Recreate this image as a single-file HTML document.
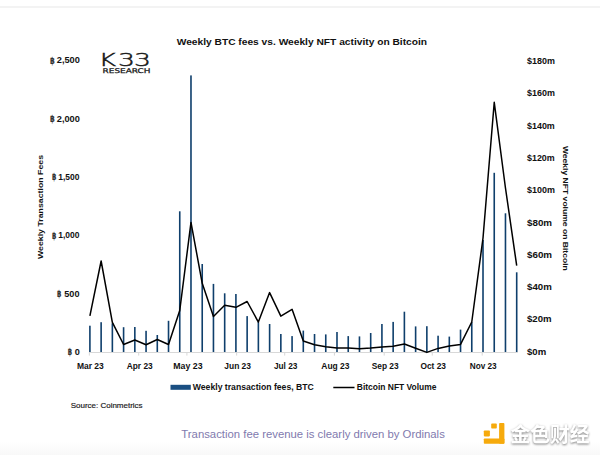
<!DOCTYPE html>
<html><head><meta charset="utf-8"><title>Weekly BTC fees vs. Weekly NFT activity on Bitcoin</title>
<style>
html,body{margin:0;padding:0;background:#fff;}
body{width:600px;height:455px;overflow:hidden;position:relative;}
svg{position:absolute;left:0;top:0;display:block;}
text{font-family:"Liberation Sans",sans-serif;}
.ax{font-size:8.4px;font-weight:bold;fill:#111;}
.btc{font-family:"DejaVu Sans",sans-serif;font-size:9.6px;font-weight:bold;fill:#333;}
.mo{font-size:8.6px;font-weight:bold;fill:#111;}
</style></head><body>
<svg width="600" height="455" viewBox="0 0 600 455">
<defs>
<linearGradient id="fade" x1="0" y1="0" x2="0" y2="1">
<stop offset="0" stop-color="#ffffff"/><stop offset="1" stop-color="#f8f8f8"/>
</linearGradient>
</defs>
<rect x="0" y="0" width="600" height="455" fill="#fff"/>
<rect x="0" y="441" width="600" height="14" fill="url(#fade)"/>
<rect x="0" y="6.5" width="600" height="1" fill="#e8e8e8"/>

<!-- K33 logo -->
<text transform="scale(1.45,1)" x="68.0 81.38 92.5" y="65.6" font-size="18.4" font-weight="200" fill="#151515" stroke="#151515" stroke-width="0.45" style="font-family:'DejaVu Sans',sans-serif;">K33</text>
<text x="102.6" y="72.7" font-size="6.5" fill="#151515" stroke="#151515" stroke-width="0.25" textLength="47.8" lengthAdjust="spacingAndGlyphs" style="font-family:'DejaVu Sans',sans-serif;">RESEARCH</text>

<!-- title -->
<text x="176.7" y="44.9" font-size="8.8" font-weight="bold" fill="#111" textLength="250.4" lengthAdjust="spacingAndGlyphs">Weekly BTC fees vs. Weekly NFT activity on Bitcoin</text>

<!-- axis titles -->
<text transform="translate(43.0,259.1) rotate(-90)" font-size="7.4" font-weight="bold" fill="#111" textLength="104.2" lengthAdjust="spacingAndGlyphs">Weekly Transaction Fees</text>
<text transform="translate(562.9,145.9) rotate(90)" font-size="7.4" font-weight="bold" fill="#111" textLength="124.9" lengthAdjust="spacingAndGlyphs">Weekly NFT volume on Bitcoin</text>

<text class="ax" x="56.80" y="63.2" textLength="23.10" lengthAdjust="spacingAndGlyphs">2,500</text><text class="btc" x="49.90" y="63.7" textLength="4.8" lengthAdjust="spacingAndGlyphs">฿</text><text class="ax" x="56.80" y="121.5" textLength="23.10" lengthAdjust="spacingAndGlyphs">2,000</text><text class="btc" x="49.90" y="122.0" textLength="4.8" lengthAdjust="spacingAndGlyphs">฿</text><text class="ax" x="58.30" y="179.8" textLength="21.20" lengthAdjust="spacingAndGlyphs">1,500</text><text class="btc" x="51.90" y="180.3" textLength="4.4" lengthAdjust="spacingAndGlyphs">฿</text><text class="ax" x="58.30" y="238.2" textLength="21.20" lengthAdjust="spacingAndGlyphs">1,000</text><text class="btc" x="51.90" y="238.7" textLength="4.4" lengthAdjust="spacingAndGlyphs">฿</text><text class="ax" x="64.30" y="296.5" textLength="15.20" lengthAdjust="spacingAndGlyphs">500</text><text class="btc" x="56.90" y="297.0" textLength="4.4" lengthAdjust="spacingAndGlyphs">฿</text><text class="ax" x="74.80" y="354.8" textLength="5.10" lengthAdjust="spacingAndGlyphs">0</text><text class="btc" x="67.70" y="355.3" textLength="4.4" lengthAdjust="spacingAndGlyphs">฿</text>
<text class="ax" x="527.0" y="63.9" textLength="27.9" lengthAdjust="spacingAndGlyphs">$180m</text><text class="ax" x="527.0" y="96.2" textLength="27.9" lengthAdjust="spacingAndGlyphs">$160m</text><text class="ax" x="527.0" y="128.5" textLength="27.8" lengthAdjust="spacingAndGlyphs">$140m</text><text class="ax" x="527.0" y="160.8" textLength="27.7" lengthAdjust="spacingAndGlyphs">$120m</text><text class="ax" x="527.0" y="193.1" textLength="27.9" lengthAdjust="spacingAndGlyphs">$100m</text><text class="ax" x="527.0" y="225.5" textLength="25.1" lengthAdjust="spacingAndGlyphs">$80m</text><text class="ax" x="527.0" y="257.8" textLength="25.1" lengthAdjust="spacingAndGlyphs">$60m</text><text class="ax" x="527.0" y="290.1" textLength="24.8" lengthAdjust="spacingAndGlyphs">$40m</text><text class="ax" x="527.0" y="322.4" textLength="24.6" lengthAdjust="spacingAndGlyphs">$20m</text><text class="ax" x="527.0" y="354.7" textLength="19.2" lengthAdjust="spacingAndGlyphs">$0m</text>

<!-- x axis -->
<rect x="88.8" y="352" width="429" height="1" fill="#d8d8d8"/>
<g fill="#d8d8d8"><rect x="88.85" y="353" width="1" height="2.6"/><rect x="138.20" y="353" width="1" height="2.6"/><rect x="186.40" y="353" width="1" height="2.6"/><rect x="236.15" y="353" width="1" height="2.6"/><rect x="284.20" y="353" width="1" height="2.6"/><rect x="333.90" y="353" width="1" height="2.6"/><rect x="383.70" y="353" width="1" height="2.6"/><rect x="431.75" y="353" width="1" height="2.6"/><rect x="481.70" y="353" width="1" height="2.6"/></g>
<g class="mo"><text x="76.90" y="368.8" textLength="26.9" lengthAdjust="spacingAndGlyphs">Mar 23</text><text x="126.70" y="368.8" textLength="26.0" lengthAdjust="spacingAndGlyphs">Apr 23</text><text x="173.28" y="368.8" textLength="29.25" lengthAdjust="spacingAndGlyphs">May 23</text><text x="224.30" y="368.8" textLength="26.7" lengthAdjust="spacingAndGlyphs">Jun 23</text><text x="273.93" y="368.8" textLength="23.55" lengthAdjust="spacingAndGlyphs">Jul 23</text><text x="321.30" y="368.8" textLength="28.2" lengthAdjust="spacingAndGlyphs">Aug 23</text><text x="371.70" y="368.8" textLength="27.0" lengthAdjust="spacingAndGlyphs">Sep 23</text><text x="420.50" y="368.8" textLength="25.5" lengthAdjust="spacingAndGlyphs">Oct 23</text><text x="469.70" y="368.8" textLength="27.0" lengthAdjust="spacingAndGlyphs">Nov 23</text></g>

<!-- bars -->
<g fill="#0f3f6c"><rect x="89.10" y="325.7" width="1.6" height="26.3"/><rect x="100.33" y="322.2" width="1.6" height="29.8"/><rect x="111.56" y="323.3" width="1.6" height="28.7"/><rect x="122.79" y="327.2" width="1.6" height="24.8"/><rect x="134.03" y="327.0" width="1.6" height="25.0"/><rect x="145.26" y="330.8" width="1.6" height="21.2"/><rect x="156.49" y="335.0" width="1.6" height="17.0"/><rect x="167.72" y="320.8" width="1.6" height="31.2"/><rect x="178.95" y="211.3" width="1.6" height="140.7"/><rect x="190.18" y="75.4" width="1.6" height="276.6"/><rect x="201.42" y="264.0" width="1.6" height="88.0"/><rect x="212.65" y="283.9" width="1.6" height="68.1"/><rect x="223.88" y="293.3" width="1.6" height="58.7"/><rect x="235.11" y="294.0" width="1.6" height="58.0"/><rect x="246.34" y="316.1" width="1.6" height="35.9"/><rect x="257.57" y="322.1" width="1.6" height="29.9"/><rect x="268.81" y="324.0" width="1.6" height="28.0"/><rect x="280.04" y="334.0" width="1.6" height="18.0"/><rect x="291.27" y="336.1" width="1.6" height="15.9"/><rect x="302.50" y="330.6" width="1.6" height="21.4"/><rect x="313.73" y="334.0" width="1.6" height="18.0"/><rect x="324.96" y="334.4" width="1.6" height="17.6"/><rect x="336.19" y="332.0" width="1.6" height="20.0"/><rect x="347.43" y="336.1" width="1.6" height="15.9"/><rect x="358.66" y="336.4" width="1.6" height="15.6"/><rect x="369.89" y="333.0" width="1.6" height="19.0"/><rect x="381.12" y="324.0" width="1.6" height="28.0"/><rect x="392.35" y="321.9" width="1.6" height="30.1"/><rect x="403.58" y="311.7" width="1.6" height="40.3"/><rect x="414.82" y="326.4" width="1.6" height="25.6"/><rect x="426.05" y="326.2" width="1.6" height="25.8"/><rect x="437.28" y="335.7" width="1.6" height="16.3"/><rect x="448.51" y="336.6" width="1.6" height="15.4"/><rect x="459.74" y="329.6" width="1.6" height="22.4"/><rect x="470.97" y="322.1" width="1.6" height="29.9"/><rect x="482.21" y="240.0" width="1.6" height="112.0"/><rect x="493.44" y="172.8" width="1.6" height="179.2"/><rect x="504.67" y="213.3" width="1.6" height="138.7"/><rect x="515.90" y="272.3" width="1.6" height="79.7"/></g>
<!-- line -->
<polyline points="89.90,315.8 101.13,261.0 112.36,322.3 123.59,344.5 134.83,340.0 146.06,344.7 157.29,339.5 168.52,344.5 179.75,310.5 190.98,222.4 202.22,283.3 213.45,316.5 224.68,305.3 235.91,307.3 247.14,301.5 258.37,322.1 269.61,292.6 280.84,316.1 292.07,309.3 303.30,341.0 314.53,344.8 325.76,346.8 336.99,348.0 348.23,348.0 359.46,348.7 370.69,348.0 381.92,347.0 393.15,346.3 404.38,344.0 415.62,348.3 426.85,352.4 438.08,348.4 449.31,346.0 460.54,344.4 471.77,322.0 483.01,238.0 494.24,102.3 505.47,188.0 516.70,265.7" fill="none" stroke="#000" stroke-width="1.5" stroke-linejoin="round"/>

<!-- legend -->
<rect x="170.5" y="384.8" width="20.3" height="5" fill="#1a4f82"/>
<text x="192.8" y="390.2" class="ax" textLength="121" lengthAdjust="spacingAndGlyphs">Weekly transaction fees, BTC</text>
<rect x="333.3" y="386.75" width="21.2" height="1.5" fill="#000"/>
<text x="356.8" y="390.3" class="ax" textLength="79.7" lengthAdjust="spacingAndGlyphs">Bitcoin NFT Volume</text>

<text x="70.7" y="407.7" font-size="7.8" fill="#1a1a1a" stroke="#1a1a1a" stroke-width="0.18" textLength="71.9" lengthAdjust="spacingAndGlyphs">Source: Coinmetrics</text>

<!-- caption -->
<text x="181.3" y="438.2" font-size="11.8" fill="#7f7aae" textLength="263.5" lengthAdjust="spacingAndGlyphs">Transaction fee revenue is clearly driven by Ordinals</text>

<!-- watermark -->
<g fill="#f6aa0c">
<rect x="499.1" y="423.1" width="5.3" height="20.6" rx="0.8"/>
<rect x="483.8" y="438.4" width="20.6" height="5.3" rx="0.8"/>
<rect x="491.2" y="423.6" width="5.6" height="4.9" rx="0.8"/>
<rect x="483.8" y="430.5" width="6.1" height="5.9" rx="0.8"/>
</g>
<text x="510.6" y="441.6" font-size="20.5" font-weight="bold" fill="#fff" style="font-family:'Liberation Sans','Noto Sans CJK SC',sans-serif;filter:drop-shadow(0.7px 1px 0.9px rgba(0,0,0,0.5));" textLength="79" lengthAdjust="spacingAndGlyphs">金色财经</text>
</svg>
</body></html>
